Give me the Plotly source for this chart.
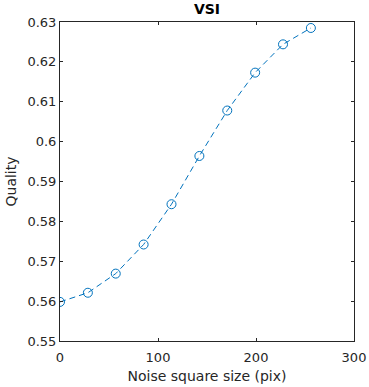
import plotly.graph_objects as go

noise_size = [0, 28.44, 56.89, 85.33, 113.78, 142.22, 170.67, 199.11, 227.56, 256]
quality = [0.5598, 0.5621, 0.5669, 0.5742, 0.5843, 0.5964, 0.6078, 0.6173, 0.6244, 0.6285]

x_ticks = [0, 100, 200, 300]
y_ticks = [0.55, 0.56, 0.57, 0.58, 0.59, 0.60, 0.61, 0.62, 0.63]
y_tick_labels = ["0.55", "0.56", "0.57", "0.58", "0.59", "0.6", "0.61", "0.62", "0.63"]

axis_color = "rgb(38,38,38)"
font = "DejaVu Sans"

fig = go.Figure()
fig.add_trace(go.Scatter(
    x=noise_size, y=quality, mode="lines+markers",
    line=dict(color="#0072BD", width=1, dash="6px,4px"),
    marker=dict(symbol="circle-open", size=9, color="#0072BD", line=dict(width=1)),
    showlegend=False,
))

axis_common = dict(
    showline=True, linecolor=axis_color, linewidth=1, mirror="allticks",
    ticks="inside", ticklen=3, tickcolor=axis_color, showgrid=False, zeroline=False,
    automargin=False,
    tickfont=dict(family=font, size=13, color=axis_color),
)

fig.update_layout(
    width=369, height=387,
    margin=dict(l=60, r=15, t=22, b=46, autoexpand=False),
    plot_bgcolor="white", paper_bgcolor="white",
    title=dict(text="<b>VSI</b>", x=0.5, xanchor="center", xref="paper", y=0.99, yanchor="top",
               automargin=False,
               font=dict(family=font, size=14, color="black")),
    xaxis=dict(range=[0, 300], tickvals=x_ticks, ticklabelstandoff=4,
               title=dict(text="Noise square size (pix)", standoff=7,
                          font=dict(family=font, size=14, color=axis_color)),
               **axis_common),
    yaxis=dict(range=[0.55, 0.63], tickvals=y_ticks, ticktext=y_tick_labels,
               title=dict(text="Quality", standoff=7,
                          font=dict(family=font, size=14, color=axis_color)),
               **axis_common),
)

fig.write_html("out.html", config={"displayModeBar": False},
               post_script="document.body.style.margin='0';document.body.style.padding='0';")
